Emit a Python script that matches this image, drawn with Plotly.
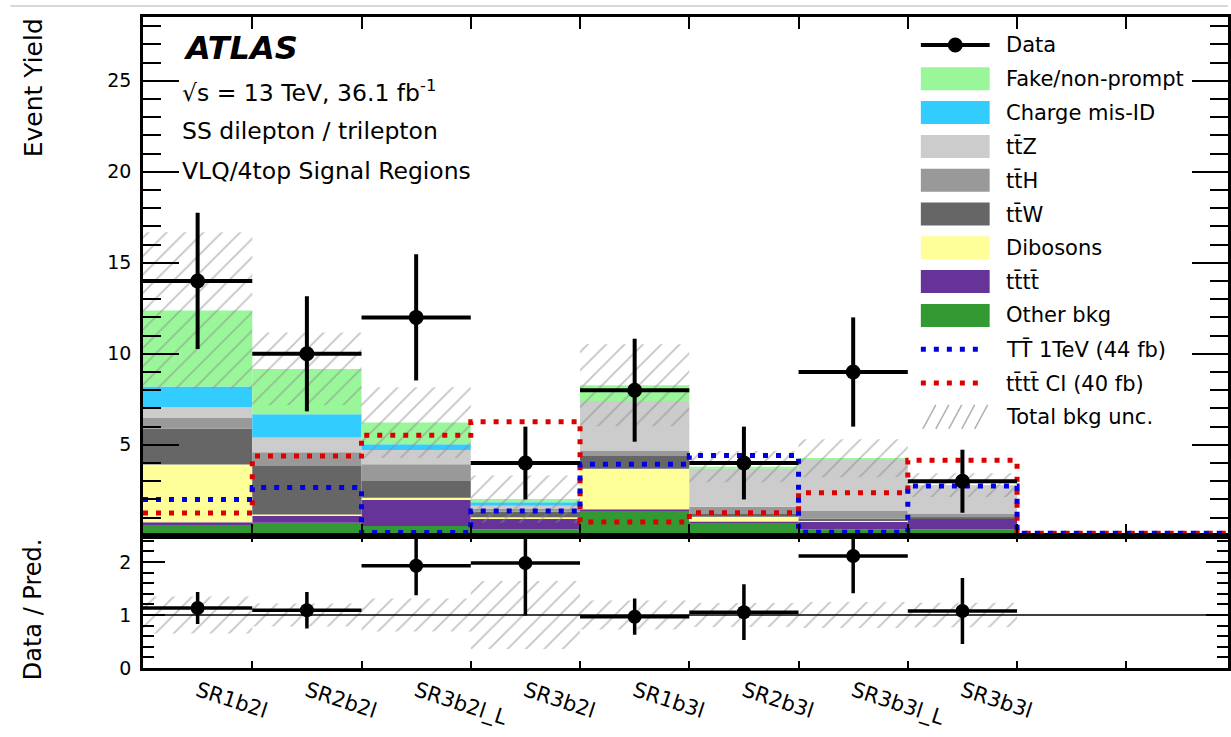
import numpy as np
import plotly.graph_objects as go

# ---------------- data ----------------
regions = ["SR1b2l", "SR2b2l", "SR3b2l_L", "SR3b2l", "SR1b3l", "SR2b3l", "SR3b3l_L", "SR3b3l"]
data_obs = [14, 10, 12, 4, 8, 4, 9, 3]

other_bkg = [0.60, 0.72, 0.54, 0.36, 1.42, 0.72, 0.36, 0.36]
tttt_sm = [0.15, 0.38, 1.43, 0.60, 0.03, 0.06, 0.45, 0.59]
dibosons = [3.17, 0.08, 0.13, 0.06, 2.24, 0.27, 0.05, 0.02]
ttw = [1.96, 2.66, 0.91, 0.30, 0.69, 0.15, 0.10, 0.05]
tth = [0.59, 0.75, 0.92, 0.15, 0.28, 0.40, 0.40, 0.18]
ttz = [0.60, 0.81, 0.78, 0.18, 2.75, 2.09, 2.84, 1.56]
charge_misid = [1.13, 1.28, 0.32, 0.20, 0.00, 0.00, 0.00, 0.00]
fakes = [4.18, 2.49, 1.19, 0.17, 0.86, 0.11, 0.06, 0.03]
bkg_unc = [4.30, 2.00, 1.94, 1.30, 2.25, 0.86, 1.04, 0.65]

# signal hypotheses, one value per bin (10 bins on the axis)
sig_vlq = [2.00, 2.65, 0.18, 1.36, 3.93, 4.42, 0.20, 2.74, 0.15, 0.15]
sig_4top_ci = [1.25, 4.38, 5.52, 6.27, 0.76, 1.27, 2.37, 4.15, 0.15, 0.15]

# ---------------- styling ----------------
FONT = "DejaVu Sans"
W, H = 1231, 737
L, R, T, B = 143, 0, 17, 69
PW, PH = W - L - R, H - T - B
RATIO_FRAC = 132.5 / PH
NBINS_AXIS = 10
XMAX = (W - L - R) / 109.56

components = [
    ("Other bkg", other_bkg, "#339933"),
    ("tt\u0304tt\u0304", tttt_sm, "#663399"),
    ("Dibosons", dibosons, "#ffff99"),
    ("tt\u0304W", ttw, "#666666"),
    ("tt\u0304H", tth, "#999999"),
    ("tt\u0304Z", ttz, "#cccccc"),
    ("Charge mis-ID", charge_misid, "#33ccff"),
    ("Fake/non-prompt", fakes, "#99f799"),
]
BLUE = "#0000e0"
RED = "#dd0000"
HATCH = "#8a8a8a"


def px(x):
    return (x - L) / PW


def py(y):
    return (H - B - y) / PH


nreg = len(regions)
centers = np.arange(nreg) + 0.5
edges = np.arange(NBINS_AXIS + 1)
data_arr = np.array(data_obs, dtype=float)
data_err = np.sqrt(data_arr)

fig = go.Figure()

# stacked backgrounds
base = np.zeros(nreg)
for name, vals, col in components:
    v = np.array(vals, dtype=float)
    fig.add_trace(go.Bar(
        x=centers, y=v, base=base.copy(), width=1.0, name=name,
        marker=dict(color=col, line=dict(width=0)),
        showlegend=False, xaxis="x", yaxis="y", hoverinfo="skip",
    ))
    base = base + v
total = base
unc = np.array(bkg_unc)

# signal step histograms
for vals, col, name in [(sig_4top_ci, RED, "tttt CI"), (sig_vlq, BLUE, "TT 1TeV")]:
    fig.add_trace(go.Scatter(
        x=edges, y=list(vals) + [vals[-1]], mode="lines", line_shape="hv",
        line=dict(color=col, width=5, dash="5px,8px"), name=name,
        showlegend=False, xaxis="x", yaxis="y", hoverinfo="skip",
    ))

pattern = dict(shape="/", fgcolor=HATCH, bgcolor="rgba(0,0,0,0)", size=13,
               solidity=0.14, fillmode="overlay")

# total background uncertainty band
fig.add_trace(go.Bar(
    x=centers, y=2 * unc, base=total - unc, width=1.0,
    marker=dict(color="rgba(0,0,0,0)", line=dict(width=0), pattern=pattern),
    showlegend=False, xaxis="x", yaxis="y", hoverinfo="skip",
))

# data
fig.add_trace(go.Scatter(
    x=centers, y=data_arr, mode="markers",
    marker=dict(color="black", size=15),
    error_x=dict(type="data", array=[0.5] * nreg, thickness=4, width=0, color="black"),
    error_y=dict(type="data", array=data_err, thickness=4, width=0, color="black"),
    showlegend=False, xaxis="x", yaxis="y", name="Data",
))

# ratio panel
rel_unc = unc / total
fig.add_trace(go.Bar(
    x=centers, y=2 * rel_unc, base=1 - rel_unc, width=1.0,
    marker=dict(color="rgba(0,0,0,0)", line=dict(width=0), pattern=pattern),
    showlegend=False, xaxis="x2", yaxis="y2", hoverinfo="skip",
))
fig.add_trace(go.Scatter(
    x=centers, y=data_arr / total, mode="markers",
    marker=dict(color="black", size=14),
    error_x=dict(type="data", array=[0.5] * nreg, thickness=3.5, width=0, color="black"),
    error_y=dict(type="data", array=data_err / total, thickness=3.5, width=0, color="black"),
    showlegend=False, xaxis="x2", yaxis="y2",
))

axis_common = dict(showline=True, linecolor="black", linewidth=2.5, mirror="ticks",
                   showgrid=False, zeroline=False, tickcolor="black")

fig.update_layout(
    width=W, height=H, margin=dict(l=L, r=R, t=T, b=B),
    paper_bgcolor="white", plot_bgcolor="white",
    barmode="overlay", showlegend=False,
    font=dict(family=FONT, color="black"),
    xaxis=dict(domain=[0, 1], range=[0, XMAX], anchor="y", tickmode="array",
               tickvals=edges[1:-1], ticks="inside", ticklen=12, tickwidth=1.5,
               showticklabels=False, **axis_common),
    yaxis=dict(domain=[RATIO_FRAC, 1], range=[0.02, 28.5], anchor="x",
               tickmode="linear", tick0=0, dtick=5, ticks="inside", ticklen=36,
               tickwidth=2, ticklabelstandoff=5,
               tickfont=dict(size=19, family=FONT),
               minor=dict(dtick=1, ticks="inside", ticklen=18, tickwidth=1.5,
                          tickcolor="black", showgrid=False),
               **axis_common),
    xaxis2=dict(domain=[0, 1], range=[0, XMAX], anchor="y2", matches="x",
                tickmode="array", tickvals=centers, ticktext=regions,
                ticks="inside", ticklen=0, tickangle=18,
                tickfont=dict(size=21, family=FONT),
                minor=dict(tickmode="array", tickvals=edges[1:-1], ticks="inside",
                           ticklen=7, tickwidth=1.5, tickcolor="black", showgrid=False),
                **axis_common),
    yaxis2=dict(domain=[0, RATIO_FRAC], range=[0, 2.5], anchor="x2",
                tickmode="linear", tick0=0, dtick=1, ticks="inside", ticklen=22,
                tickwidth=2, ticklabelstandoff=5,
                tickfont=dict(size=19, family=FONT),
                minor=dict(dtick=0.2, ticks="inside", ticklen=11, tickwidth=1.5,
                           tickcolor="black", showgrid=False),
                **axis_common),
)

shapes = []
annotations = []

# unity line in ratio panel
shapes.append(dict(type="line", xref="x2 domain", yref="y2", x0=0, x1=1, y0=1, y1=1,
                   line=dict(color="black", width=1.5)))
# thin separator line at the top of the page
shapes.append(dict(type="line", xref="paper", yref="paper", x0=px(10), x1=px(W),
                   y0=py(6), y1=py(6), line=dict(color="#cccccc", width=1.5)))

# axis titles
annotations.append(dict(text="Event Yield", xref="paper", yref="paper", x=px(33), y=py(88),
                        textangle=-90, showarrow=False, font=dict(size=25, family=FONT),
                        xanchor="center", yanchor="middle"))
annotations.append(dict(text="Data / Pred.", xref="paper", yref="paper", x=px(33), y=py(609),
                        textangle=-90, showarrow=False, font=dict(size=24, family=FONT),
                        xanchor="center", yanchor="middle"))

# ATLAS label block
annotations.append(dict(text="ATLAS", xref="paper", yref="paper", x=px(181), y=py(48),
                        showarrow=False, xanchor="left", yanchor="middle",
                        font=dict(size=32, family=FONT, weight="bold", style="italic")))
for txt, yy in [("\u221as = 13 TeV, 36.1 fb<sup>-1</sup>", 91),
                ("SS dilepton / trilepton", 131),
                ("VLQ/4top Signal Regions", 171)]:
    annotations.append(dict(text=txt, xref="paper", yref="paper", x=px(180), y=py(yy),
                            showarrow=False, xanchor="left", yanchor="middle",
                            font=dict(size=23.5, family=FONT)))

# legend
LX0, LX1, TX = 923, 992, 1006
ROW0, DY = 45.0, 33.8
legend_rows = ["Data"] + [c[0] for c in components[::-1]] + \
    ["TT\u0304 1TeV (44 fb)", "tt\u0304tt\u0304 CI (40 fb)", "Total bkg unc."]
for i, label in enumerate(legend_rows):
    yc = ROW0 + i * DY
    annotations.append(dict(text=label, xref="paper", yref="paper", x=px(TX), y=py(yc),
                            showarrow=False, xanchor="left", yanchor="middle",
                            font=dict(size=21, family=FONT)))
    if i == 0:
        shapes.append(dict(type="line", xref="paper", yref="paper", x0=px(LX0), x1=px(LX1),
                           y0=py(yc), y1=py(yc), line=dict(color="black", width=4)))
        cx = 0.5 * (LX0 + LX1)
        shapes.append(dict(type="circle", xref="paper", yref="paper",
                           x0=px(cx - 7.5), x1=px(cx + 7.5), y0=py(yc + 7.5), y1=py(yc - 7.5),
                           fillcolor="black", line=dict(color="black", width=0)))
    elif i <= len(components):
        col = components[::-1][i - 1][2]
        shapes.append(dict(type="rect", xref="paper", yref="paper", x0=px(LX0), x1=px(LX1),
                           y0=py(yc + 11.5), y1=py(yc - 11.5), fillcolor=col,
                           line=dict(width=0)))
    elif label.endswith("(44 fb)") or label.endswith("(40 fb)"):
        col = BLUE if "44" in label else RED
        shapes.append(dict(type="line", xref="paper", yref="paper", x0=px(LX0), x1=px(LX1 - 4),
                           y0=py(yc), y1=py(yc), line=dict(color=col, width=5, dash="5px,8px")))
    else:
        for k in range(5):
            x0 = LX0 + 2 + k * 13
            shapes.append(dict(type="line", xref="paper", yref="paper",
                               x0=px(x0), x1=px(x0 + 13), y0=py(yc + 12), y1=py(yc - 12),
                               line=dict(color="#b0b0b0", width=1.5)))

fig.update_layout(shapes=shapes, annotations=annotations)
fig.write_html("out.html")
